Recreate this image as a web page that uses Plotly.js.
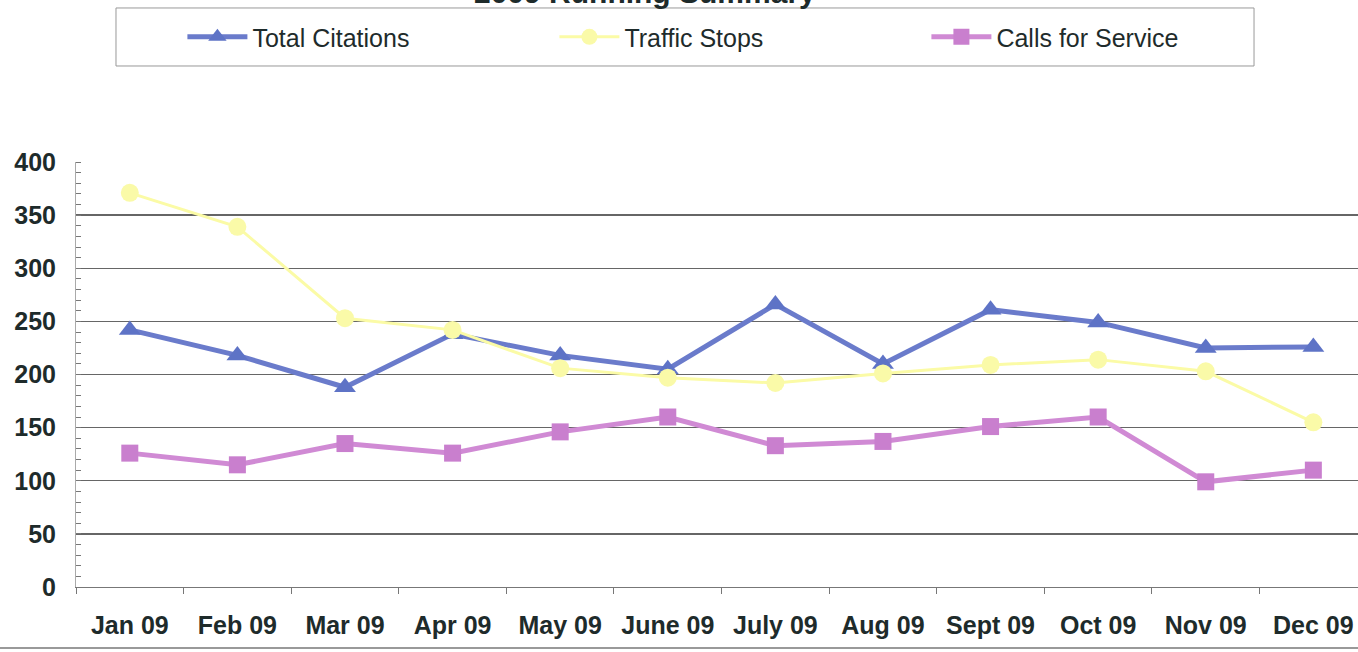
<!DOCTYPE html>
<html>
<head>
<meta charset="utf-8">
<script src="https://cdn.plot.ly/plotly-3.0.1.min.js"></script>
<style>html,body{margin:0;padding:0;background:#fff;}#chart{width:1358px;height:652px;}</style>
</head>
<body>
<div id="chart"></div>
<script>
const months = ["Jan 09","Feb 09","Mar 09","Apr 09","May 09","June 09","July 09","Aug 09","Sept 09","Oct 09","Nov 09","Dec 09"];
const totalCitations = [242, 218, 188, 238, 218, 205, 266, 210, 261, 249, 225, 226];
const trafficStops   = [371, 339, 253, 242, 206, 197, 192, 201, 209, 214, 203, 155];
const callsForService = [126, 115, 135, 126, 146, 160, 133, 137, 151, 160, 99, 110];
const yTicks = [0, 50, 100, 150, 200, 250, 300, 350, 400];
const chartTitle = "2009 Running Summary";

const traces = [
  {x: months, y: totalCitations, name: "Total Citations", type: "scatter", mode: "lines+markers",
   line: {color: "#6a7bcb", width: 5}, marker: {symbol: "triangle-up", size: 19, color: "#5e73c6"}},
  {x: months, y: trafficStops, name: "Traffic Stops", type: "scatter", mode: "lines+markers",
   line: {color: "#fbfba6", width: 3}, marker: {symbol: "circle", size: 18, color: "#fafaa8"}},
  {x: months, y: callsForService, name: "Calls for Service", type: "scatter", mode: "lines+markers",
   line: {color: "#d08ad4", width: 5}, marker: {symbol: "square", size: 17, color: "#c97fce"}}
];

const tickFont = {size: 25, color: "#1e2b2b", family: "Liberation Sans, Arial, sans-serif", weight: "bold"};

const layout = {
  width: 1358, height: 652,
  margin: {l: 76, r: 0, t: 162, b: 65},
  paper_bgcolor: "#ffffff", plot_bgcolor: "#ffffff",
  font: {family: "Liberation Sans, Arial, sans-serif", color: "#1e2b2b"},
  showlegend: true,
  legend: {orientation: "h", x: 0.083, xanchor: "left", y: 1.348, yanchor: "top",
           font: {size: 25, color: "#1e2b2b"}, entrywidth: 297, entrywidthmode: "pixels",
           itemwidth: 60, bgcolor: "rgba(0,0,0,0)", borderwidth: 0},
  xaxis: {type: "category", range: [-0.5, 11.415], tickson: "boundaries", ticks: "outside", ticklen: 6,
          tickcolor: "#777", showline: true, linecolor: "#777", linewidth: 1, showgrid: false,
          tickfont: tickFont, ticklabelstandoff: 16, fixedrange: true},
  yaxis: {range: [0, 400], tickvals: yTicks, ticktext: yTicks.map(String), ticks: "", showline: true,
          linecolor: "#aaa", linewidth: 1, showgrid: true, gridcolor: "#666", gridwidth: 1.3, zeroline: false,
          tickfont: tickFont, ticklabelstandoff: 14,
          minor: {dtick: 10, ticks: "inside", ticklen: 5, tickcolor: "#777", showgrid: false}},
  annotations: [
    {text: "<b>" + chartTitle + "</b>", xref: "paper", yref: "paper", x: 0.4438, y: 1.3576,
     xanchor: "center", yanchor: "bottom", showarrow: false, borderpad: 0,
     font: {size: 30, color: "#1e2b2b", family: "Liberation Sans, Arial, sans-serif"}}
  ],
  shapes: [
    {type: "rect", xref: "paper", yref: "paper", x0: 0.0312, x1: 0.9189, y0: 1.2259, y1: 1.3624,
     line: {color: "#999", width: 1}, fillcolor: "rgba(0,0,0,0)", layer: "below"},
    {type: "line", xref: "paper", yref: "paper", x0: -0.06, x1: 1, y0: -0.1435, y1: -0.1435,
     line: {color: "#999", width: 2}}
  ]
};

Plotly.newPlot("chart", traces, layout, {displayModeBar: false, staticPlot: true});
</script>
</body>
</html>
